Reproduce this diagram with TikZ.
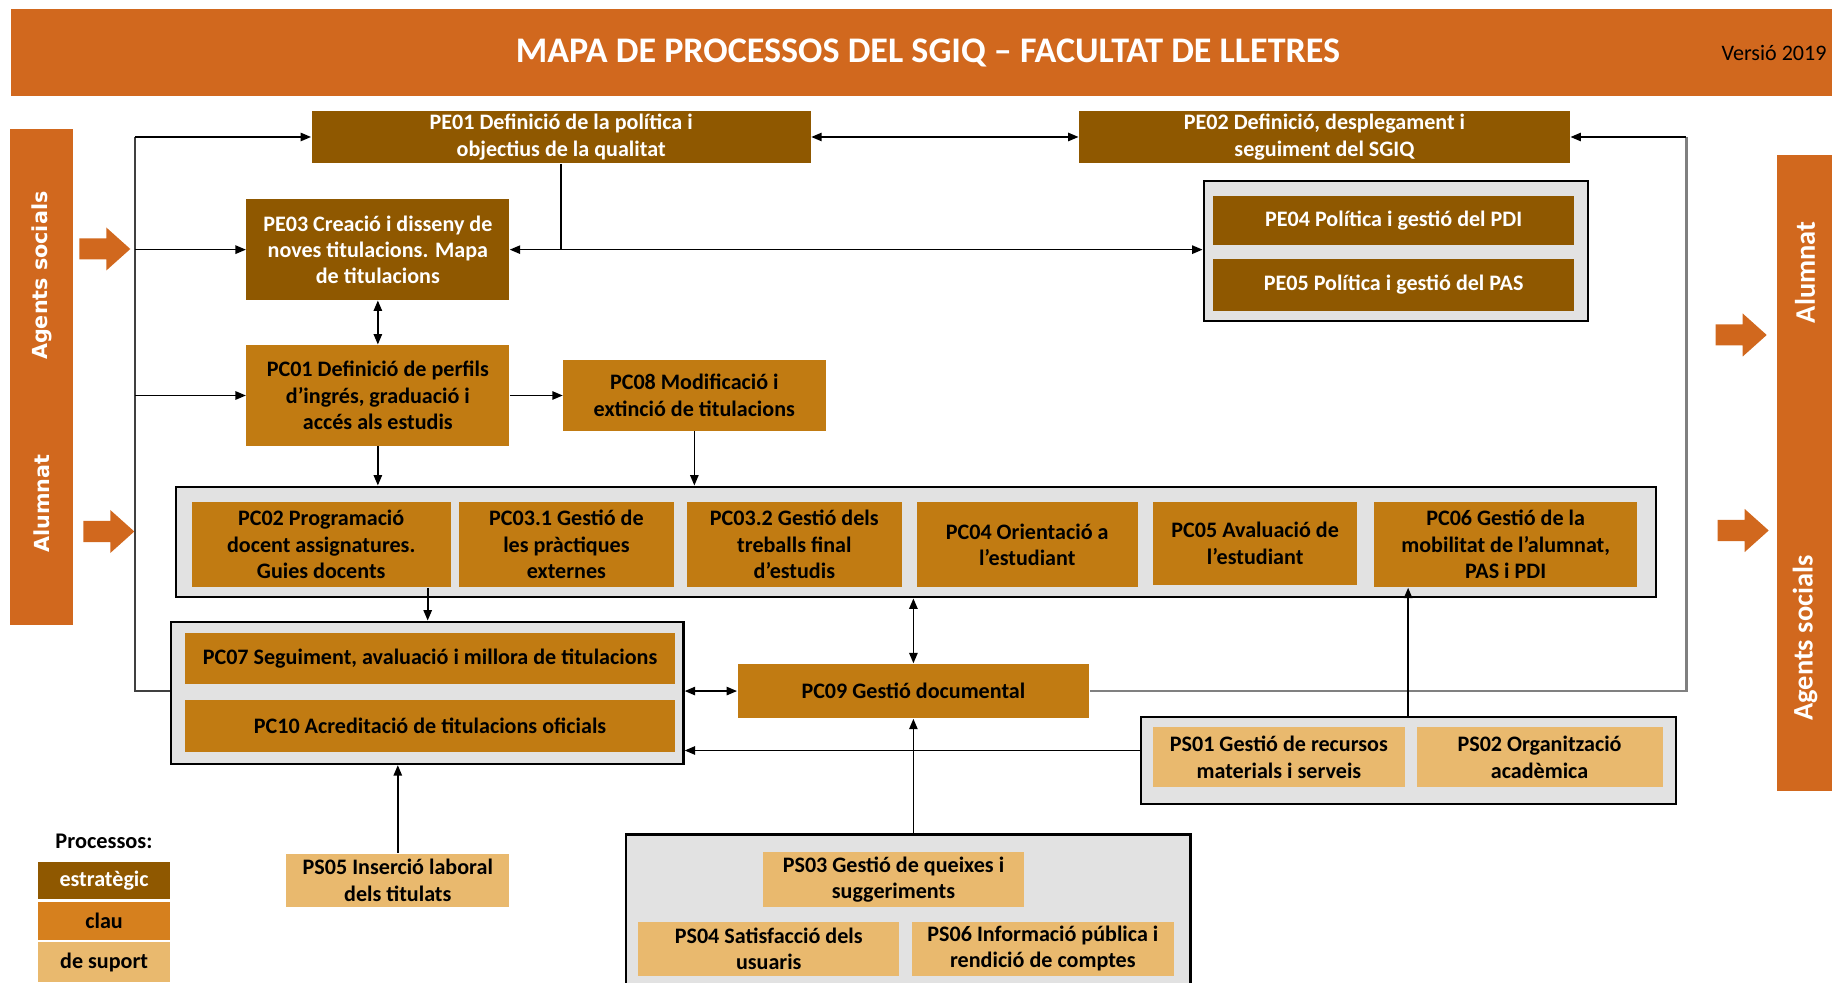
\documentclass[tikz,border=0pt]{standalone}
\usepackage{fontspec}
\setmainfont{Carlito}
\newfontfamily\barfont{DejaVu Sans}
\usetikzlibrary{arrows.meta,%
                calc}
\definecolor{taronja}{RGB}{209,104,30}
\definecolor{estrategic}{RGB}{143,88,0}
\definecolor{clau}{RGB}{193,123,18}
\definecolor{claullegenda}{RGB}{214,128,30}
\definecolor{suport}{RGB}{233,185,110}
\definecolor{fonsgrup}{RGB}{226,226,226}
% caixa de proces: estil, nom, x1, y1, x2, y2, text (en pixels)
\newcommand{\Proces}[7]{%
	\node[#1,minimum width={(#5-#3)*0.43pt},minimum height={(#6-#4)*0.43pt}] (#2) at ({(#3+#5)/2},{(#4+#6)/2}) {#7};}
% fletxa grossa taronja: x inicial, y central
\newcommand{\Fletxa}[2]{%
	\fill[taronja] (#1,#2-10.5) -- (#1+27,#2-10.5) -- (#1+27,#2-21.5) -- (#1+51,#2)
		-- (#1+27,#2+21.5) -- (#1+27,#2+10.5) -- (#1,#2+10.5) -- cycle;}

\begin{document}
\begin{tikzpicture}[x=0.43pt,y=-0.43pt]
		\tikzset{caixa/.style={inner sep=0pt,align=center,font=\fontsize{9.5}{11.3}\selectfont\bfseries},
			procE/.style={caixa,fill=estrategic,text=white},
			procC/.style={caixa,fill=clau,text=black},
			procS/.style={caixa,fill=suport,text=black},
			grup/.style={draw=black,line width=1pt,fill=fonsgrup,inner sep=0pt},
			barra/.style={fill=taronja,inner sep=0pt},
			fil/.style={line width=0.7pt},
			fletxa/.style={fil,-{Triangle[length=4.5pt,width=3.6pt]}},
			dfletxa/.style={fil,{Triangle[length=4.5pt,width=3.6pt]}-{Triangle[length=4.5pt,width=3.6pt]}},
			marc/.style={line width=0.9pt,draw=black!75},
			marcgris/.style={line width=1.2pt,draw=black!50}}
		\useasboundingbox (0,0) rectangle (1832,983);
		\clip (0,0) rectangle (1832,983);
		% capcalera
		\Proces{barra}{cap}{10.6}{9.3}{1840}{95.7}{}
		\node[text=white,font=\fontsize{15.5}{18}\selectfont\bfseries] (titol) at (928,52.5) {MAPA DE PROCESSOS DEL SGIQ -- FACULTAT DE LLETRES};
		\node[anchor=east,inner sep=0pt,font=\fontsize{9.5}{11}\selectfont] (versio) at (1827,53) {Versió 2019};
		% barres laterals
		\Proces{barra}{barE}{10.3}{129.5}{73.3}{625}{}
		\Proces{barra}{barD}{1777}{155}{1840}{791}{}
		\node[rotate=90,text=white,font=\barfont\fontsize{8.9}{10}\selectfont\bfseries] (agE) at (41.7,275.7) {Agents socials};
		\node[rotate=90,text=white,font=\barfont\fontsize{8.9}{10}\selectfont\bfseries] (alE) at (41.7,503.6) {Alumnat};
		\node[rotate=90,text=white,font=\fontsize{12.2}{14}\selectfont\bfseries] (alD) at (1805,272.5) {Alumnat};
		\node[rotate=90,text=white,font=\fontsize{12.2}{14}\selectfont\bfseries] (agD) at (1805,638) {Agents socials};
		\Fletxa{79.3}{249}
		\Fletxa{83.3}{531.5}
		\Fletxa{1715.7}{335}
		\Fletxa{1717.7}{530.5}
		% grups
		\Proces{grup}{gPE}{1203.7}{181}{1588.3}{320.7}{}
		\Proces{grup}{gPC}{176}{486.7}{1656}{597.3}{}
		\Proces{grup}{gPC7}{170.7}{621.7}{683.5}{764}{}
		\Proces{grup}{gPS1}{1140.7}{716.7}{1676.3}{804}{}
		\Proces{grup}{gPS3}{626}{834.5}{1190.5}{1000}{}
		% estrategics
		\Proces{procE}{PE01}{311.5}{110.7}{810.8}{163.3}{PE01 Definició de la política i\\objectius de la qualitat}
		\Proces{procE}{PE02}{1079}{110.7}{1570}{163.3}{PE02 Definició, desplegament i\\seguiment del SGIQ}
		\Proces{procE}{PE03}{246.4}{199.3}{509.3}{300}{PE03 Creació i disseny de\\noves titulacions. Mapa\\de titulacions}
		\Proces{procE}{PE04}{1213.3}{195.7}{1574}{245}{PE04 Política i gestió del PDI}
		\Proces{procE}{PE05}{1213.3}{258.7}{1574}{310.7}{PE05 Política i gestió del PAS}
		% clau
		\Proces{procC}{PC01}{246.4}{345}{509.3}{446}{PC01 Definició de perfils\\d’ingrés, graduació i\\accés als estudis}
		\Proces{procC}{PC08}{563.2}{359.7}{825.5}{430.7}{PC08 Modificació i\\extinció de titulacions}
		\Proces{procC}{PC02}{191.8}{501.7}{450.6}{587.3}{PC02 Programació\\docent assignatures.\\Guies docents}
		\Proces{procC}{PC031}{459.4}{501.7}{673.5}{587.3}{PC03.1 Gestió de\\les pràctiques\\externes}
		\Proces{procC}{PC032}{687}{501.7}{901.7}{587.3}{PC03.2 Gestió dels\\treballs final\\d’estudis}
		\Proces{procC}{PC04}{916.6}{501.7}{1137.8}{587.3}{PC04 Orientació a\\l’estudiant}
		\Proces{procC}{PC05}{1153.2}{501.7}{1357.1}{585}{PC05 Avaluació de\\l’estudiant}
		\Proces{procC}{PC06}{1374.3}{501.7}{1637}{587.3}{PC06 Gestió de la\\mobilitat de l’alumnat,\\PAS i PDI}
		\Proces{procC}{PC07}{185.4}{632.7}{674.7}{684}{PC07 Seguiment, avaluació i millora de titulacions}
		\Proces{procC}{PC10}{185.4}{700}{674.7}{752.3}{PC10 Acreditació de titulacions oficials}
		\Proces{procC}{PC09}{737.5}{663.8}{1089.3}{718.3}{PC09 Gestió documental}
		% suport
		\Proces{procS}{PS01}{1152.6}{727.3}{1405.2}{787.3}{PS01 Gestió de recursos\\materials i serveis}
		\Proces{procS}{PS02}{1416.5}{727.3}{1662.6}{787.3}{PS02 Organització\\acadèmica}
		\Proces{procS}{PS03}{763}{852}{1024}{906.5}{PS03 Gestió de queixes i\\suggeriments}
		\Proces{procS}{PS04}{638.3}{921.7}{899.2}{975.5}{PS04 Satisfacció dels\\usuaris}
		\Proces{procS}{PS06}{912.2}{921.7}{1173.5}{975.5}{PS06 Informació pública i\\rendició de comptes}
		\Proces{procS}{PS05}{286.3}{853.7}{509.3}{906.7}{PS05 Inserció laboral\\dels titulats}
		% llegenda
		\node[font=\fontsize{9.6}{11}\selectfont\bfseries] (llegenda) at (104,841.7) {Processos:};
		\Proces{procE}{lE}{38.1}{862.3}{170.1}{899.3}{estratègic}
		\Proces{procC,fill=claullegenda}{lC}{38.1}{902.3}{170.1}{940}{clau}
		\Proces{procS}{lS}{38.1}{942.3}{170.1}{981.7}{de suport}
		% marc exterior
		\coordinate (lt) at (135,137);
		\coordinate (rt) at (1686.4,137);
		\draw[marc] (gPC7.west |- PC09.west) -- (lt |- PC09.west) -- (lt);
		\draw[fletxa] (lt) -- (PE01.west);
		\draw[fletxa] (lt |- PE03.west) -- (PE03.west);
		\draw[fletxa] (lt |- PC01.west) -- (PC01.west);
		\draw[marcgris] (PC09.east) -- (PC09.east -| rt) -- (rt);
		\draw[fletxa] (rt) -- (PE02.east);
		% connexions
		\draw[dfletxa] (PE01.east) -- (PE02.west);
		\draw[fil] (PE01.south) -- (PE01.south |- PE03.east);
		\draw[dfletxa] (PE03.east) -- (PE03.east -| gPE.west);
		\draw[dfletxa] (PE03.south) -- (PC01.north);
		\draw[fletxa] (PC01.east) -- (PC01.east -| PC08.west);
		\draw[fletxa] (PC01.south) -- (PC01.south |- gPC.north);
		\draw[fletxa] (PC08.south) -- (PC08.south |- gPC.north);
		\coordinate (c02) at ($(PC02.south west)!0.91!(PC02.south east)$);
		\draw[fletxa] (c02) -- (c02 |- gPC7.north);
		\draw[dfletxa] (PC09.north |- gPC.south) -- (PC09.north);
		\draw[dfletxa] (PC09.west -| gPC7.east) -- (PC09.west);
		\coordinate (cS1) at ($(gPS1.north west)!0.39!(gPS1.south west)$);
		\draw[fletxa] (cS1) -- (cS1 -| gPC7.east);
		\draw[fletxa] (PC09.south |- gPS3.north) -- (PC09.south);
		\coordinate (c06) at ($(PC06.south west)!0.13!(PC06.south east)$);
		\draw[fletxa] (c06 |- gPS1.north) -- (c06);
		\draw[fletxa] (PS05.north) -- (PS05.north |- gPC7.south);
	\end{tikzpicture}
\end{document}
